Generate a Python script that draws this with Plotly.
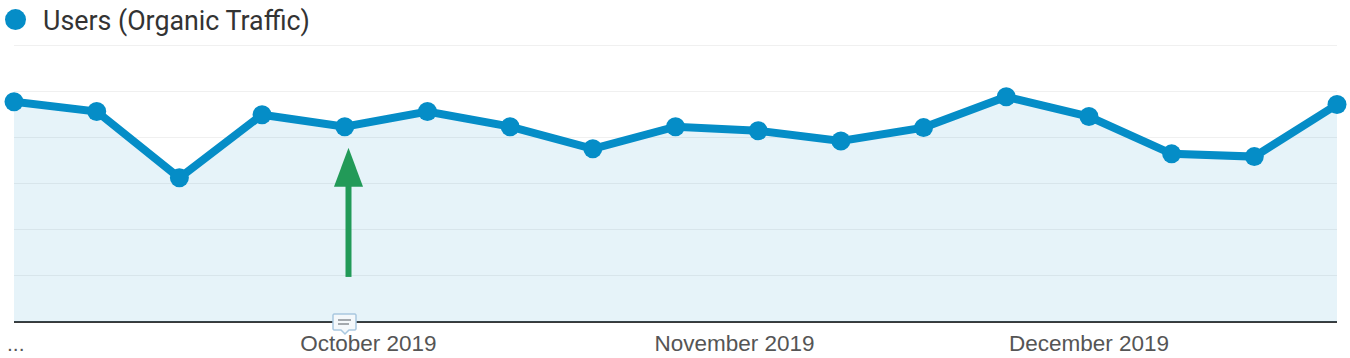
import plotly.graph_objects as go

weeks = ["2019-09-01","2019-09-08","2019-09-15","2019-09-22","2019-09-29","2019-10-06","2019-10-13","2019-10-20","2019-10-27",
         "2019-11-03","2019-11-10","2019-11-17","2019-11-24","2019-12-01","2019-12-08","2019-12-15","2019-12-22"]
users = [478,457,313,450,424,457,424,376,424,415,393,422,489,446,365,359,472]
tick_dates = ["2019-10-01","2019-11-01","2019-12-01"]
tick_labels = ["October 2019","November 2019","December 2019"]
series_name = "Users (Organic Traffic)"

BLUE = "#058DC7"
GREEN = "#229A58"
L, R, T, B = 14, 1337, 41.4, 322
def px(x): return (x - L) / (R - L)
def py(y): return (B - y) / (B - T)

fig = go.Figure()
fig.add_trace(go.Scatter(x=weeks, y=users, mode="lines+markers", name=series_name, showlegend=False, cliponaxis=False,
    line=dict(color=BLUE, width=8), marker=dict(color=BLUE, size=19),
    fill="tozeroy", fillcolor="rgba(5,141,199,0.10)"))

shapes = [
    dict(type="circle", xref="paper", yref="paper", fillcolor=BLUE, line=dict(width=0),
         x0=px(5), x1=px(26), y0=py(30.5), y1=py(9.5)),
    dict(type="line", xref="paper", yref="paper", x0=px(348.5), x1=px(348.5), y0=py(277), y1=py(185),
         line=dict(color=GREEN, width=6)),
    dict(type="path", xref="paper", yref="paper", fillcolor=GREEN, line=dict(width=0),
         path=f"M {px(334)} {py(187)} L {px(348.5)} {py(148)} L {px(363)} {py(187)} Z"),
    dict(type="path", xref="paper", yref="paper", fillcolor="#F4F8FB", line=dict(color="#A9C8E0", width=1.5),
         path=f"M {px(334)} {py(314)} L {px(355)} {py(314)} L {px(356)} {py(315)} L {px(356)} {py(329)} L {px(355)} {py(330)} "
              f"L {px(349)} {py(330)} L {px(345)} {py(334)} L {px(341)} {py(330)} L {px(334)} {py(330)} L {px(333)} {py(329)} L {px(333)} {py(315)} Z"),
    dict(type="line", xref="paper", yref="paper", x0=px(338), x1=px(351), y0=py(320), y1=py(320), line=dict(color="#8A8F94", width=1.5)),
    dict(type="line", xref="paper", yref="paper", x0=px(338), x1=px(349), y0=py(324), y1=py(324), line=dict(color="#8A8F94", width=1.5)),
]

fig.update_layout(
    width=1350, height=358, autosize=False,
    margin=dict(l=L, r=1350 - R, t=T, b=358 - B, autoexpand=False),
    paper_bgcolor="white", plot_bgcolor="white",
    shapes=shapes,
    showlegend=False,
    xaxis=dict(type="date", range=[weeks[0], weeks[-1]], tickvals=tick_dates, ticktext=tick_labels,
               showgrid=False, zeroline=False, showline=False, ticks="", ticklabelstandoff=5, automargin=False,
               tickfont=dict(family="Liberation Sans", size=22.5, color="#555555")),
    yaxis=dict(range=[0, 610], dtick=100, showticklabels=False, ticks="", showgrid=True, automargin=False,
               gridcolor="#F0F0F0", gridwidth=1, zeroline=True, zerolinecolor="#3A3A3A", zerolinewidth=2, showline=False),
    annotations=[
        dict(xref="paper", yref="paper", x=px(42), y=py(21), text=series_name, showarrow=False,
             font=dict(family="Roboto", size=26.8, color="#333333"), xanchor="left", xshift=-1, yanchor="middle"),
        dict(xref="paper", yref="paper", x=px(16), y=py(343), text="...", showarrow=False,
             font=dict(family="Liberation Sans", size=21, color="#555555"), xanchor="center", yanchor="middle"),
    ],
)
fig.write_html("out.html", config=dict(displayModeBar=False),
               post_script="document.body.style.margin='0';document.documentElement.style.overflow='hidden';")
